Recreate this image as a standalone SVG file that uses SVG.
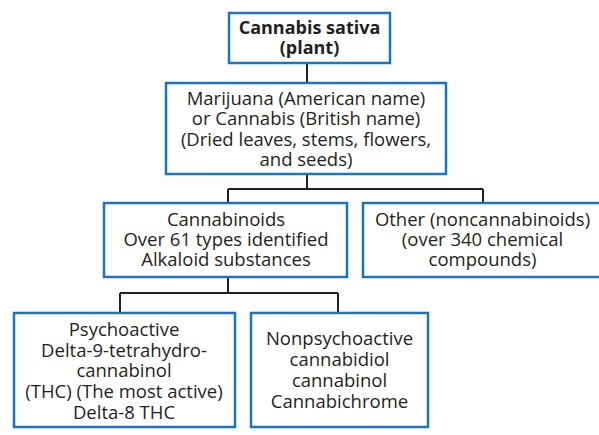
<svg xmlns="http://www.w3.org/2000/svg" width="599" height="435" viewBox="0 0 599 435">
<style>
.box{fill:#fff;stroke:#1b75bc;stroke-width:2.5}
.t{font-family:"Open Sans","Liberation Sans",sans-serif;font-size:18.5px;fill:#231f20;text-anchor:middle}
.b{font-weight:bold;font-size:18px}
.c{fill:none;stroke:#231f20;stroke-width:2}
</style>
<rect width="599" height="435" fill="#fff"/>
<g id="connectors">
<path class="c" d="M307 63V83"/>
<path class="c" d="M307 174V189M228 189H483M228 189V203M483 189V203"/>
<path class="c" d="M228 277V293M120 293H338M120 293V313M338 293V313"/>
</g>
<g id="n1">
<rect class="box" x="229" y="13" width="161" height="50"/>
<text class="t b" x="309.5" y="33.5">Cannabis sativa</text>
<text class="t b" x="309.5" y="53.5">(plant)</text>
</g>
<g id="n2">
<rect class="box" x="166" y="83" width="280" height="91"/>
<text class="t" x="306" y="104.5">Marijuana (American name)</text>
<text class="t" x="306" y="125">or Cannabis (British name)</text>
<text class="t" x="306" y="145.5">(Dried leaves, stems, flowers,</text>
<text class="t" x="306" y="166">and seeds)</text>
</g>
<g id="n3">
<rect class="box" x="104" y="203" width="243" height="74"/>
<text class="t" x="226" y="225.5">Cannabinoids</text>
<text class="t" x="226" y="245.5">Over 61 types identified</text>
<text class="t" x="226" y="265.5">Alkaloid substances</text>
</g>
<g id="n4">
<rect class="box" x="363" y="203" width="240" height="74"/>
<text class="t" x="482.5" y="225.5">Other (noncannabinoids)</text>
<text class="t" x="482.5" y="245.5">(over 340 chemical</text>
<text class="t" x="482.5" y="265.5">compounds)</text>
</g>
<g id="n5">
<rect class="box" x="14" y="313" width="221" height="114"/>
<text class="t" x="124" y="335.5">Psychoactive</text>
<text class="t" x="124" y="356.5">Delta-9-tetrahydro-</text>
<text class="t" x="124" y="377">cannabinol</text>
<text class="t" x="124" y="398">(THC) (The most active)</text>
<text class="t" x="124" y="418.5">Delta-8 THC</text>
</g>
<g id="n6">
<rect class="box" x="251" y="313" width="177" height="114"/>
<text class="t" x="339.5" y="345">Nonpsychoactive</text>
<text class="t" x="339.5" y="366">cannabidiol</text>
<text class="t" x="339.5" y="387">cannabinol</text>
<text class="t" x="339.5" y="408">Cannabichrome</text>
</g>
</svg>
